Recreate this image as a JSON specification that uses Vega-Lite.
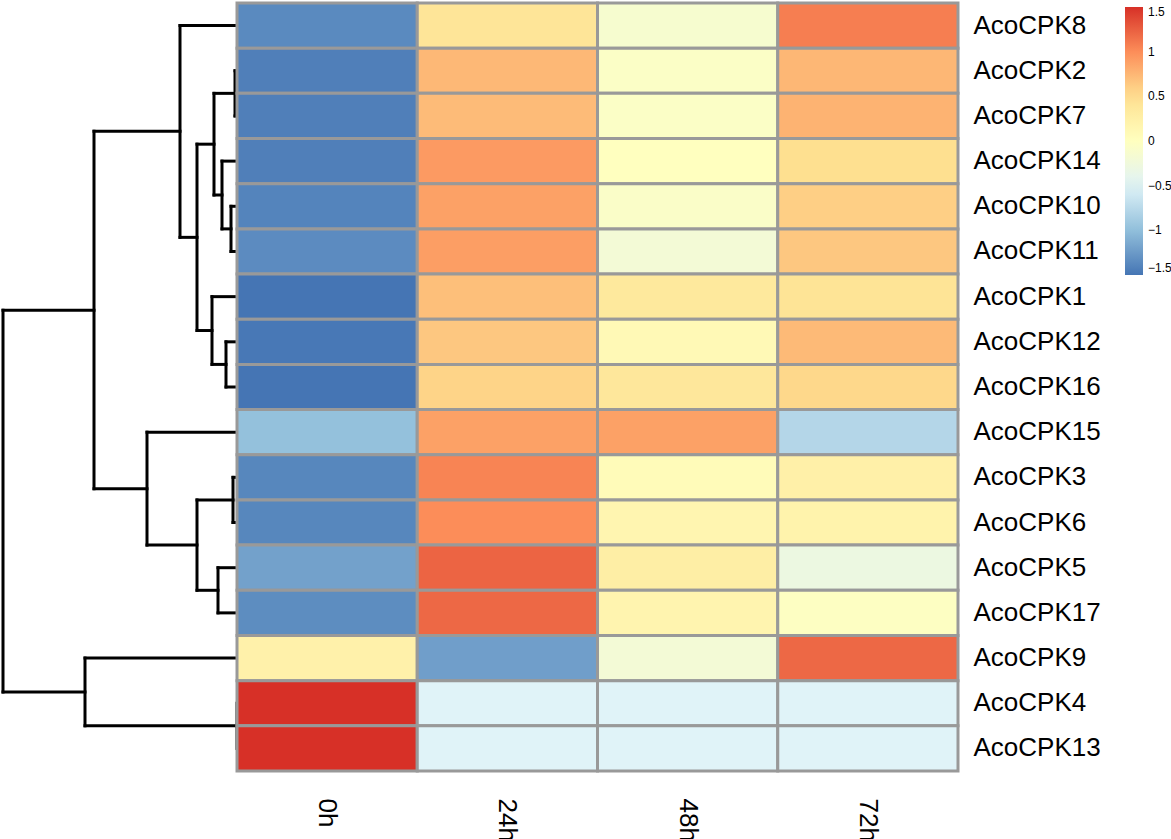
{
  "$schema": "https://vega.github.io/schema/vega-lite/v6.json",
  "padding": {"left": 0, "top": 1, "right": 0, "bottom": 0},
  "background": "white",
  "bounds": "flush",
  "spacing": 0,
  "config": {"view": {"stroke": null}, "font": "Liberation Sans"},
  "resolve": {"scale": {"color": "independent", "x": "independent", "y": "independent"}, "legend": {"color": "independent"}},
  "hconcat": [
    {
      "width": 237,
      "height": 768,
      "data": {"values": [
        {"h1": 23.4, "h2": 23.4, "r1": 6.30, "r2": 14.75},
        {"h1": 14.3, "h2": 14.3, "r1": 2.34, "r2": 10.25},
        {"h1": 5.7, "h2": 5.7, "r1": 0, "r2": 4.6875},
        {"h1": 4.0, "h2": 4.0, "r1": 2.625, "r2": 6.75},
        {"h1": 2.3, "h2": 2.3, "r1": 1.5, "r2": 3.75},
        {"h1": 0.2, "h2": 0.2, "r1": 1, "r2": 2},
        {"h1": 1.5, "h2": 1.5, "r1": 3, "r2": 4.5},
        {"h1": 0.6, "h2": 0.6, "r1": 4, "r2": 5},
        {"h1": 2.5, "h2": 2.5, "r1": 6, "r2": 7.5},
        {"h1": 1.1, "h2": 1.1, "r1": 7, "r2": 8},
        {"h1": 9.0, "h2": 9.0, "r1": 9, "r2": 11.5},
        {"h1": 4.0, "h2": 4.0, "r1": 10.5, "r2": 12.5},
        {"h1": 0.4, "h2": 0.4, "r1": 10, "r2": 11},
        {"h1": 1.9, "h2": 1.9, "r1": 12, "r2": 13},
        {"h1": 15.2, "h2": 15.2, "r1": 14, "r2": 15.5},
        {"h1": 0.0, "h2": 0.0, "r1": 15, "r2": 16},
        {"h1": 23.4, "h2": 14.3, "r1": 6.30, "r2": 6.30},
        {"h1": 23.4, "h2": 15.2, "r1": 14.75, "r2": 14.75},
        {"h1": 14.3, "h2": 5.7, "r1": 2.34, "r2": 2.34},
        {"h1": 14.3, "h2": 9.0, "r1": 10.25, "r2": 10.25},
        {"h1": 5.7, "h2": 0, "r1": 0, "r2": 0},
        {"h1": 5.7, "h2": 4.0, "r1": 4.6875, "r2": 4.6875},
        {"h1": 4.0, "h2": 2.3, "r1": 2.625, "r2": 2.625},
        {"h1": 4.0, "h2": 2.5, "r1": 6.75, "r2": 6.75},
        {"h1": 2.3, "h2": 0.2, "r1": 1.5, "r2": 1.5},
        {"h1": 2.3, "h2": 1.5, "r1": 3.75, "r2": 3.75},
        {"h1": 0.2, "h2": 0, "r1": 1, "r2": 1},
        {"h1": 0.2, "h2": 0, "r1": 2, "r2": 2},
        {"h1": 1.5, "h2": 0, "r1": 3, "r2": 3},
        {"h1": 1.5, "h2": 0.6, "r1": 4.5, "r2": 4.5},
        {"h1": 0.6, "h2": 0, "r1": 4, "r2": 4},
        {"h1": 0.6, "h2": 0, "r1": 5, "r2": 5},
        {"h1": 2.5, "h2": 0, "r1": 6, "r2": 6},
        {"h1": 2.5, "h2": 1.1, "r1": 7.5, "r2": 7.5},
        {"h1": 1.1, "h2": 0, "r1": 7, "r2": 7},
        {"h1": 1.1, "h2": 0, "r1": 8, "r2": 8},
        {"h1": 9.0, "h2": 0, "r1": 9, "r2": 9},
        {"h1": 9.0, "h2": 4.0, "r1": 11.5, "r2": 11.5},
        {"h1": 4.0, "h2": 0.4, "r1": 10.5, "r2": 10.5},
        {"h1": 4.0, "h2": 1.9, "r1": 12.5, "r2": 12.5},
        {"h1": 0.4, "h2": 0, "r1": 10, "r2": 10},
        {"h1": 0.4, "h2": 0, "r1": 11, "r2": 11},
        {"h1": 1.9, "h2": 0, "r1": 12, "r2": 12},
        {"h1": 1.9, "h2": 0, "r1": 13, "r2": 13},
        {"h1": 15.2, "h2": 0, "r1": 14, "r2": 14},
        {"h1": 15.2, "h2": 0, "r1": 15.5, "r2": 15.5}
      ]},
      "mark": {"type": "rule", "color": "black", "strokeWidth": 3, "strokeCap": "square"},
      "encoding": {
        "x": {"field": "h1", "type": "quantitative", "scale": {"domain": [0, 23.7], "reverse": true, "nice": false, "zero": false}, "axis": null},
        "x2": {"field": "h2"},
        "y": {"field": "r1", "type": "quantitative", "scale": {"domain": [-0.5, 16.5], "reverse": true, "nice": false, "zero": false}, "axis": null},
        "y2": {"field": "r2"}
      }
    },
    {
      "width": 721,
      "height": 768,
      "data": {"values": [
        {"gene": "AcoCPK8", "time": "0h", "z": -1.36}, {"gene": "AcoCPK8", "time": "24h", "z": 0.42}, {"gene": "AcoCPK8", "time": "48h", "z": -0.14}, {"gene": "AcoCPK8", "time": "72h", "z": 1.08},
        {"gene": "AcoCPK2", "time": "0h", "z": -1.43}, {"gene": "AcoCPK2", "time": "24h", "z": 0.74}, {"gene": "AcoCPK2", "time": "48h", "z": -0.06}, {"gene": "AcoCPK2", "time": "72h", "z": 0.75},
        {"gene": "AcoCPK7", "time": "0h", "z": -1.43}, {"gene": "AcoCPK7", "time": "24h", "z": 0.72}, {"gene": "AcoCPK7", "time": "48h", "z": -0.06}, {"gene": "AcoCPK7", "time": "72h", "z": 0.77},
        {"gene": "AcoCPK14", "time": "0h", "z": -1.43}, {"gene": "AcoCPK14", "time": "24h", "z": 0.92}, {"gene": "AcoCPK14", "time": "48h", "z": 0.0}, {"gene": "AcoCPK14", "time": "72h", "z": 0.5},
        {"gene": "AcoCPK10", "time": "0h", "z": -1.4}, {"gene": "AcoCPK10", "time": "24h", "z": 0.88}, {"gene": "AcoCPK10", "time": "48h", "z": -0.08}, {"gene": "AcoCPK10", "time": "72h", "z": 0.6},
        {"gene": "AcoCPK11", "time": "0h", "z": -1.35}, {"gene": "AcoCPK11", "time": "24h", "z": 0.9}, {"gene": "AcoCPK11", "time": "48h", "z": -0.2}, {"gene": "AcoCPK11", "time": "72h", "z": 0.65},
        {"gene": "AcoCPK1", "time": "0h", "z": -1.5}, {"gene": "AcoCPK1", "time": "24h", "z": 0.7}, {"gene": "AcoCPK1", "time": "48h", "z": 0.36}, {"gene": "AcoCPK1", "time": "72h", "z": 0.44},
        {"gene": "AcoCPK12", "time": "0h", "z": -1.48}, {"gene": "AcoCPK12", "time": "24h", "z": 0.65}, {"gene": "AcoCPK12", "time": "48h", "z": 0.1}, {"gene": "AcoCPK12", "time": "72h", "z": 0.73},
        {"gene": "AcoCPK16", "time": "0h", "z": -1.5}, {"gene": "AcoCPK16", "time": "24h", "z": 0.57}, {"gene": "AcoCPK16", "time": "48h", "z": 0.38}, {"gene": "AcoCPK16", "time": "72h", "z": 0.55},
        {"gene": "AcoCPK15", "time": "0h", "z": -0.98}, {"gene": "AcoCPK15", "time": "24h", "z": 0.88}, {"gene": "AcoCPK15", "time": "48h", "z": 0.88}, {"gene": "AcoCPK15", "time": "72h", "z": -0.78},
        {"gene": "AcoCPK3", "time": "0h", "z": -1.38}, {"gene": "AcoCPK3", "time": "24h", "z": 1.05}, {"gene": "AcoCPK3", "time": "48h", "z": 0.06}, {"gene": "AcoCPK3", "time": "72h", "z": 0.25},
        {"gene": "AcoCPK6", "time": "0h", "z": -1.38}, {"gene": "AcoCPK6", "time": "24h", "z": 1.0}, {"gene": "AcoCPK6", "time": "48h", "z": 0.16}, {"gene": "AcoCPK6", "time": "72h", "z": 0.2},
        {"gene": "AcoCPK5", "time": "0h", "z": -1.2}, {"gene": "AcoCPK5", "time": "24h", "z": 1.22}, {"gene": "AcoCPK5", "time": "48h", "z": 0.28}, {"gene": "AcoCPK5", "time": "72h", "z": -0.3},
        {"gene": "AcoCPK17", "time": "0h", "z": -1.34}, {"gene": "AcoCPK17", "time": "24h", "z": 1.2}, {"gene": "AcoCPK17", "time": "48h", "z": 0.17}, {"gene": "AcoCPK17", "time": "72h", "z": -0.03},
        {"gene": "AcoCPK9", "time": "0h", "z": 0.22}, {"gene": "AcoCPK9", "time": "24h", "z": -1.22}, {"gene": "AcoCPK9", "time": "48h", "z": -0.2}, {"gene": "AcoCPK9", "time": "72h", "z": 1.2},
        {"gene": "AcoCPK4", "time": "0h", "z": 1.5}, {"gene": "AcoCPK4", "time": "24h", "z": -0.5}, {"gene": "AcoCPK4", "time": "48h", "z": -0.5}, {"gene": "AcoCPK4", "time": "72h", "z": -0.5},
        {"gene": "AcoCPK13", "time": "0h", "z": 1.5}, {"gene": "AcoCPK13", "time": "24h", "z": -0.5}, {"gene": "AcoCPK13", "time": "48h", "z": -0.5}, {"gene": "AcoCPK13", "time": "72h", "z": -0.5}
      ]},
      "mark": {"type": "rect", "stroke": "#999999", "strokeWidth": 3},
      "encoding": {
        "x": {"field": "time", "type": "nominal", "sort": ["0h", "24h", "48h", "72h"],
          "axis": {"orient": "bottom", "title": null, "domain": false, "ticks": false, "labelAngle": 90, "labelFontSize": 26, "labelFont": "Liberation Sans", "labelColor": "black", "labelPadding": 27}},
        "y": {"field": "gene", "type": "nominal",
          "sort": ["AcoCPK8", "AcoCPK2", "AcoCPK7", "AcoCPK14", "AcoCPK10", "AcoCPK11", "AcoCPK1", "AcoCPK12", "AcoCPK16", "AcoCPK15", "AcoCPK3", "AcoCPK6", "AcoCPK5", "AcoCPK17", "AcoCPK9", "AcoCPK4", "AcoCPK13"],
          "axis": {"orient": "right", "title": null, "domain": false, "ticks": false, "labelFontSize": 26, "labelFont": "Liberation Sans", "labelColor": "black", "labelPadding": 15}},
        "color": {"field": "z", "type": "quantitative",
          "scale": {"type": "linear", "domain": [-1.5, -1, -0.5, 0, 0.5, 1, 1.5], "range": ["#4575b4", "#91bfdb", "#e0f3f8", "#ffffbf", "#fee090", "#fc8d59", "#d73027"], "interpolate": "rgb"},
          "legend": {"orient": "none", "legendX": 888, "legendY": 4, "direction": "vertical", "gradientLength": 268, "gradientThickness": 18, "title": null,
            "values": [-1.5, -1, -0.5, 0, 0.5, 1, 1.5], "labelExpr": "replace(toString(datum.value), '-', '\u2212')", "labelFontSize": 12, "labelFont": "Liberation Sans", "labelColor": "black", "labelOffset": 5, "labelBaseline": "middle", "gradientStrokeWidth": 0, "labelOverlap": false}}
      }
    }
  ]
}
